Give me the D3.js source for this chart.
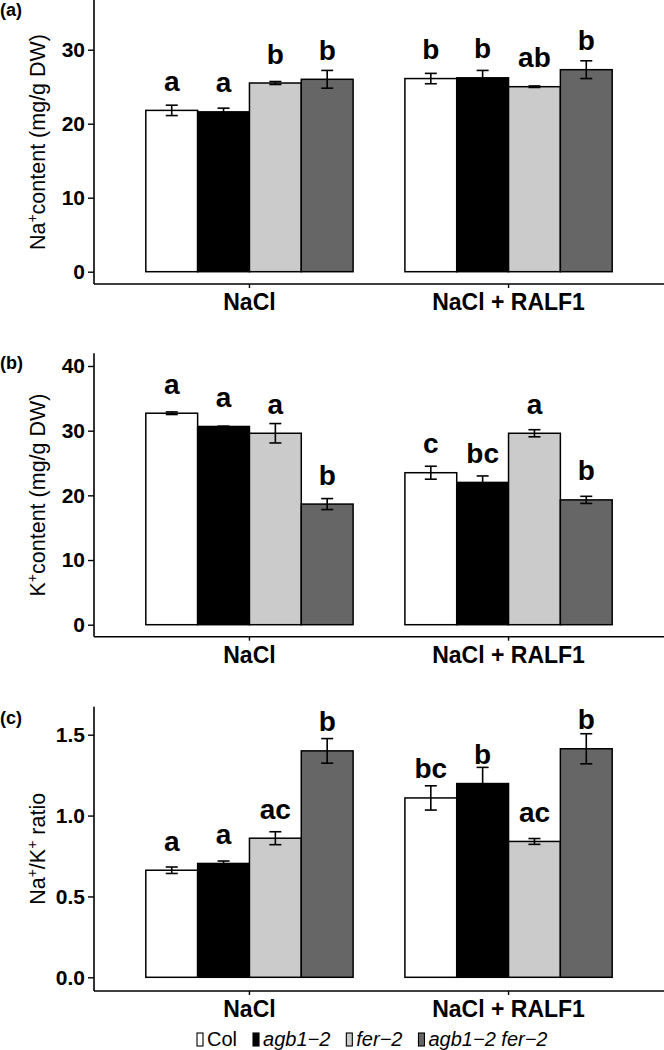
<!DOCTYPE html>
<html>
<head>
<meta charset="utf-8">
<script src="https://cdn.jsdelivr.net/npm/d3@7"></script>
<style>
  body { margin: 0; background: #fff; }
  svg { display: block; font-family: "Liberation Sans", Arial, sans-serif; }
</style>
</head>
<body>
<div id="chart"></div>
<script>
// data (order: NaCl x 4 genotypes, then NaCl + RALF1 x 4)
var groups = ["NaCl", "NaCl + RALF1"];
var genotypes = ["Col", "agb1\u22122", "fer\u22122", "agb1\u22122 fer\u22122"];
var fills = ["#ffffff", "#000000", "#cbcbcb", "#666666"];

var naMean = [21.8, 21.6, 25.5, 26.0, 26.1, 26.2, 25.0, 27.3];
var naSE = [0.7, 0.5, 0.2, 1.2, 0.7, 1.0, 0.1, 1.2];
var naLetters = ["a", "a", "b", "b", "b", "b", "ab", "b"];
var naTicks = [0, 10, 20, 30];

var kMean = [32.7, 30.65, 29.6, 18.65, 23.5, 22.0, 29.6, 19.3];
var kSE = [0.2, 0.05, 1.5, 0.85, 1.0, 1.0, 0.55, 0.55];
var kLetters = ["a", "a", "a", "b", "c", "bc", "a", "b"];
var kTicks = [0, 10, 20, 30, 40];

var ratioMean = [0.662, 0.704, 0.86, 1.40, 1.109, 1.198, 0.84, 1.413];
var ratioSE = [0.02, 0.015, 0.04, 0.076, 0.075, 0.1, 0.018, 0.093];
var ratioLetters = ["a", "a", "ac", "b", "bc", "b", "ac", "b"];
var ratioTicks = [0, 0.5, 1.0, 1.5];

var W = 664, H = 1050;
var axisX = 94;

var svg = d3.select("#chart").append("svg")
    .attr("width", W)
    .attr("height", H);

// x scales shared by all panels
var x = d3.scaleBand()
    .domain(groups)
    .range([axisX, W])
    .paddingInner(0.2)
    .paddingOuter(0.2);
var xg = d3.scaleBand()
    .domain(genotypes)
    .range([0, x.bandwidth()]);

var panels = [
  {tag: "(a)", tagY: 16, top: 0, bottom: 284, zeroY: 271.7, refVal: 30, refY: 49.7,
   mean: naMean, se: naSE, letters: naLetters, ticks: naTicks, fmt: d3.format("d"),
   label: [["Na", false], ["+", true], ["content (mg/g DW)", false]]},
  {tag: "(b)", tagY: 369, top: 353.3, bottom: 636.7, zeroY: 624.7, refVal: 40, refY: 366,
   mean: kMean, se: kSE, letters: kLetters, ticks: kTicks, fmt: d3.format("d"),
   label: [["K", false], ["+", true], ["content (mg/g DW)", false]]},
  {tag: "(c)", tagY: 724, top: 706.7, bottom: 991, zeroY: 977.3, refVal: 1.5, refY: 734.7,
   mean: ratioMean, se: ratioSE, letters: ratioLetters, ticks: ratioTicks, fmt: d3.format(".1f"),
   label: [["Na", false], ["+", true], ["/K", false], ["+", true], [" ratio", false]]}
];

panels.forEach(function(p) {
  var y = d3.scaleLinear()
    .domain([0, p.refVal])
    .range([p.zeroY, p.refY]);

  var g = svg.append("g");

  var rows = p.mean.map(function(m, i) {
    return {group: groups[Math.floor(i / 4)], geno: genotypes[i % 4], mean: m,
            se: p.se[i], letter: p.letters[i], fill: fills[i % 4]};
  });

  // bars
  g.selectAll(".bar")
    .data(rows)
    .enter()
    .append("rect")
    .attr("x", function(d) { return x(d.group) + xg(d.geno); })
    .attr("y", function(d) { return y(d.mean); })
    .attr("width", xg.bandwidth())
    .attr("height", function(d) { return y(0) - y(d.mean); })
    .attr("fill", function(d) { return d.fill; })
    .attr("stroke", "#000")
    .attr("stroke-width", 1.5);

  // error bars
  var eb = g.selectAll(".err")
    .data(rows)
    .enter()
    .append("g")
    .attr("stroke", "#000")
    .attr("stroke-width", 1.6)
    .attr("transform", function(d) {
      return "translate(" + (x(d.group) + xg(d.geno) + xg.bandwidth() / 2) + ",0)";
    });
  eb.append("line")
    .attr("y1", function(d) { return y(d.mean - d.se); })
    .attr("y2", function(d) { return y(d.mean + d.se); });
  eb.append("line")
    .attr("x1", -6).attr("x2", 6)
    .attr("y1", function(d) { return y(d.mean + d.se); })
    .attr("y2", function(d) { return y(d.mean + d.se); });
  eb.append("line")
    .attr("x1", -6).attr("x2", 6)
    .attr("y1", function(d) { return y(d.mean - d.se); })
    .attr("y2", function(d) { return y(d.mean - d.se); });

  // significance letters
  g.selectAll(".letter")
    .data(rows)
    .enter()
    .append("text")
    .attr("x", function(d) { return x(d.group) + xg(d.geno) + xg.bandwidth() / 2; })
    .attr("y", function(d) { return y(d.mean) - 19.5; })
    .attr("text-anchor", "middle")
    .style("font-size", "28px")
    .style("font-weight", "bold")
    .text(function(d) { return d.letter; });

  // y axis
  var ya = g.append("g")
    .attr("transform", "translate(" + axisX + ",0)")
    .call(d3.axisLeft(y).tickValues(p.ticks).tickFormat(p.fmt).tickSize(6).tickPadding(3));
  ya.select(".domain").remove();
  ya.selectAll("line").attr("stroke-width", 1.4);
  ya.selectAll("text")
    .style("font-size", "21px")
    .style("font-weight", "bold")
    .attr("fill", "#000");
  g.append("line")
    .attr("x1", axisX).attr("x2", axisX)
    .attr("y1", p.top).attr("y2", p.bottom)
    .attr("stroke", "#000")
    .attr("stroke-width", 1.6);

  // x axis
  var xa = g.append("g")
    .attr("transform", "translate(0," + p.bottom + ")")
    .call(d3.axisBottom(x).tickSize(4).tickSizeOuter(0));
  xa.select(".domain").remove();
  xa.selectAll("line").attr("stroke-width", 1.4);
  xa.selectAll("text")
    .attr("y", 10)
    .style("font-size", "23px")
    .style("font-weight", "bold")
    .attr("fill", "#000");
  g.append("line")
    .attr("x1", axisX).attr("x2", W)
    .attr("y1", p.bottom).attr("y2", p.bottom)
    .attr("stroke", "#000")
    .attr("stroke-width", 1.6);

  // y axis title
  var t = g.append("text")
    .attr("transform", "translate(45," + ((p.top + p.bottom) / 2) + ") rotate(-90)")
    .attr("text-anchor", "middle")
    .style("font-size", "21.5px");
  p.label.forEach(function(part) {
    var s = t.append("tspan").text(part[0]);
    if (part[1]) s.attr("baseline-shift", "super").style("font-size", "14px");
  });

  // panel tag
  svg.append("text")
    .attr("x", 0)
    .attr("y", p.tagY)
    .style("font-size", "18px")
    .style("font-weight", "bold")
    .text(p.tag);
});

// legend
var legend = svg.append("g").attr("transform", "translate(0,1046)");
var lx = 197;
genotypes.forEach(function(name, i) {
  legend.append("rect")
    .attr("x", lx).attr("y", -13)
    .attr("width", 6).attr("height", 13)
    .attr("fill", fills[i])
    .attr("stroke", "#000")
    .attr("stroke-width", 1.1);
  var tx = legend.append("text")
    .attr("x", lx + 10)
    .attr("y", 0)
    .style("font-size", "20px")
    .style("font-style", i === 0 ? "normal" : "italic")
    .text(name);
  lx += 10 + tx.node().getComputedTextLength() + 16;
});
</script>
</body>
</html>
